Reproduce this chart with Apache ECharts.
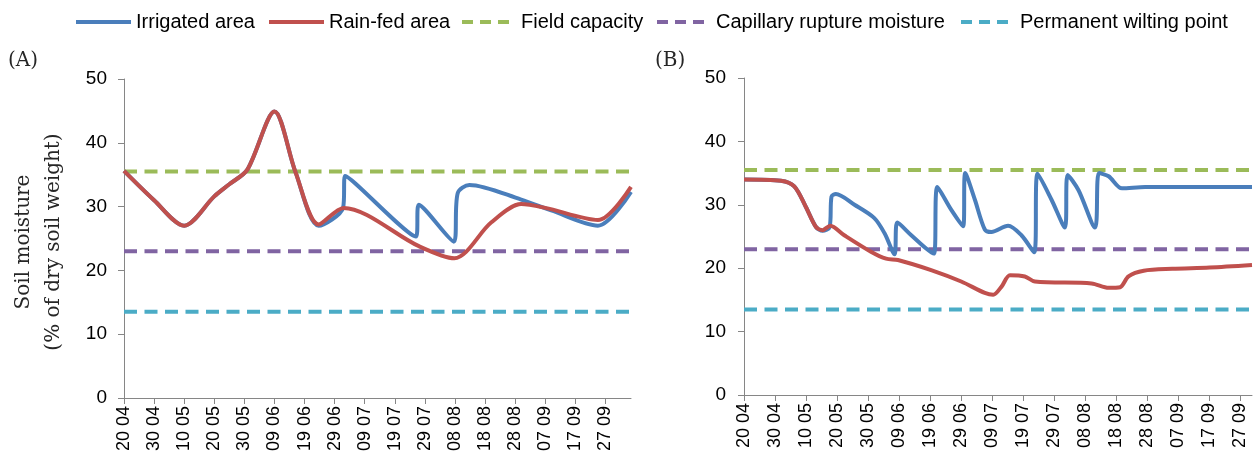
<!DOCTYPE html>
<html>
<head>
<meta charset="utf-8">
<script src="https://cdn.jsdelivr.net/npm/echarts@6/dist/echarts.min.js"></script>
<style>
html,body{margin:0;padding:0;background:#fff;}
#chart{width:1258px;height:461px;}
</style>
</head>
<body>
<div id="chart"></div>
<script>
// ---- data (x = days since 20 April) ----
const tickLabels = ['20 04','30 04','10 05','20 05','30 05','09 06','19 06','29 06','09 07','19 07','29 07','08 08','18 08','28 08','07 09','17 09','27 09'];
const tickDays = [0,10,20,30,40,50,60,70,80,90,100,110,120,130,140,150,160];
const yTicks = [0,10,20,30,40,50];

const irrigatedA = [[0,35.6],[10,31],[20,27],[30,31.6],[35,33.5],[41,35.8],[50,44.9],[57,35.4],[64.7,27],[72.8,29.8],[73.5,34.8],[97,25.3],[98,30.3],[109.6,24.5],[110.9,32.1],[114.8,33.4],[132,31.1],[142,29.4],[157.5,27.0],[168.5,32.3]];
const rainfedA = [[0,35.6],[10,31],[20,27],[30,31.6],[35,33.5],[41,35.8],[50,44.9],[57,35.4],[64.7,27.2],[73,29.8],[98,23.8],[109.8,21.9],[122,27.5],[132,30.4],[140,29.8],[157.5,27.9],[168.5,33.1]];

const irrigatedB = [[0,34.0],[11.9,33.8],[16.2,32.9],[19.9,29.7],[23.2,26.5],[25.3,25.9],[27.6,26.5],[28.2,31.3],[29.6,31.7],[35.6,30.0],[42,27.9],[45.3,25.5],[48.5,22.2],[49.4,27.2],[53.9,25.2],[58.7,23.1],[61.2,22.3],[62.3,32.8],[66.8,29.2],[70.6,26.6],[71.3,35.0],[74.4,30.8],[77.6,26.1],[79.7,25.7],[85.1,26.7],[89.4,25.2],[93.5,22.5],[94.6,34.9],[99.1,30.8],[103.4,26.4],[104.3,34.7],[107.8,32.3],[113.1,26.4],[114.4,35.0],[117.5,34.5],[121.8,32.6],[129.3,32.8],[163.7,32.8]];
const rainfedB = [[0,34.0],[11.9,33.8],[16.2,32.9],[19.9,29.7],[23.2,26.5],[25.3,26.0],[27.8,26.7],[32.3,25.2],[40.9,22.6],[45.8,21.5],[49.6,21.3],[60.3,19.7],[70,17.9],[77.6,16.1],[80.3,15.8],[83,17.1],[85.7,18.9],[90.5,18.7],[93.75,17.9],[112,17.6],[117.5,16.9],[121.2,17.0],[123.9,18.7],[128.8,19.6],[138,19.9],[150,20.1],[163.7,20.5]];

const fieldCapacity = 35.5;
const capillaryRupture = 23;
const wiltingPoint = 13.5;
const axisEndA = 168.5;
const axisEndB = 163.7;

const names = ['Irrigated area','Rain-fed area','Field capacity','Capillary rupture moisture','Permanent wilting point'];
const colors = ['#4A7EBB','#C0504D','#9BBB59','#8064A2','#4BACC6'];

// ---- chart ----
const chart = echarts.init(document.getElementById('chart'), null, {renderer:'canvas'});
const sans = 'Liberation Sans, Arial, sans-serif';
const serif = 'DejaVu Serif, serif';
const axisGray = '#868686';

function xAxis(gi, max){
  return {
    type:'value', gridIndex:gi, min:0, max:max,
    axisLine:{show:true, lineStyle:{color:axisGray, width:1}},
    axisTick:{show:true, length:6, lineStyle:{color:axisGray}, customValues:tickDays},
    splitLine:{show:false},
    axisLabel:{
      rotate:90, margin:8, fontFamily:sans, fontSize:18, color:'#000',
      customValues:tickDays,
      formatter:function(v){ const i=Math.round(v/10); return tickLabels[i]||''; }
    }
  };
}
function yAxis(gi, margin){
  return {
    type:'value', gridIndex:gi, min:0, max:50, interval:10,
    axisLine:{show:true, lineStyle:{color:axisGray, width:1}},
    axisTick:{show:true, length:6, lineStyle:{color:axisGray}},
    splitLine:{show:false},
    axisLabel:{margin:margin, fontFamily:sans, fontSize:19, color:'#000',
      customValues:yTicks}
  };
}
const dash = [13, 7.5];
function curve(name, data, gi, color, sm){
  return {name:name, type:'line', xAxisIndex:gi, yAxisIndex:gi, data:data,
    smooth:sm, showSymbol:false, symbol:'none',
    lineStyle:{color:color, width:4}, itemStyle:{color:color}, z:3};
}
function refLine(name, value, gi, max, color){
  return {name:name, type:'line', xAxisIndex:gi, yAxisIndex:gi,
    data:[[0,value],[max,value]], showSymbol:false, symbol:'none',
    lineStyle:{color:color, width:4, type:dash}, itemStyle:{color:color}, z:2};
}
const series = [];
[[irrigatedA, rainfedA, axisEndA],[irrigatedB, rainfedB, axisEndB]].forEach(function(p, gi){
  series.push(refLine(names[2], fieldCapacity, gi, p[2], colors[2]));
  series.push(refLine(names[3], capillaryRupture, gi, p[2], colors[3]));
  series.push(refLine(names[4], wiltingPoint, gi, p[2], colors[4]));
  series.push(curve(names[0], p[0], gi, colors[0], 0.3));
  series.push(curve(names[1], p[1], gi, colors[1], 0.3));
});

const legendLefts = [74, 267, 460, 655, 959];
const legends = names.map(function(n, i){
  const dashed = i >= 2;
  return {
    left:legendLefts[i], top:12, padding:0,
    itemWidth: dashed ? 48 : 55, itemHeight:14,
    selectedMode:false,
    icon:'inherit',
    itemStyle:{opacity:0},
    lineStyle:{width:4, type: dashed ? [11,7] : 'solid', color:colors[i]},
    data:[{name:n}],
    textStyle:{fontFamily:sans, fontSize:20, color:'#000', padding: dashed ? [0,0,0,6] : 0}
  };
});

chart.setOption({
  animation:false,
  backgroundColor:'#fff',
  legend:legends,
  grid:[
    {left:124, top:79, width:507, height:319, containLabel:false},
    {left:744, top:78, width:508, height:317, containLabel:false}
  ],
  xAxis:[xAxis(0, axisEndA), xAxis(1, axisEndB)],
  yAxis:[yAxis(0, 17), yAxis(1, 18)],
  series:series,
  graphic:[
    {type:'text', left:8, top:51, style:{text:'(A)', font:'20px '+serif, fill:'#262626'}},
    {type:'text', left:655, top:51, style:{text:'(B)', font:'20px '+serif, fill:'#262626'}},
    {type:'text', x:39, y:242, rotation:Math.PI/2,
      style:{text:'Soil moisture\n(% of dry soil weight)', font:'20px '+serif, fill:'#262626',
        align:'center', verticalAlign:'middle', lineHeight:30}}
  ]
});
</script>
</body>
</html>
